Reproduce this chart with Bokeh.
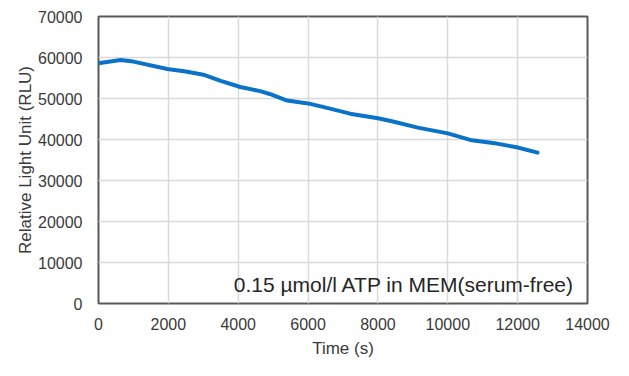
from bokeh.plotting import figure
from bokeh.models import Range1d, FixedTicker, Label, ColumnDataSource
from bokeh.embed import file_html
from bokeh.resources import INLINE

time_s = [0, 630, 1000, 1970, 2500, 3000, 3500, 4060, 4630, 4900, 5400, 6000,
          6600, 7200, 8000, 8430, 9140, 10000, 10690, 11400, 11970, 12570]
rlu = [58600, 59400, 59000, 57200, 56600, 55800, 54300, 52800, 51800, 51100,
       49500, 48800, 47600, 46300, 45200, 44400, 42900, 41500, 39800, 39000,
       38100, 36800]

x_ticks = [0, 2000, 4000, 6000, 8000, 10000, 12000, 14000]
y_ticks = [0, 10000, 20000, 30000, 40000, 50000, 60000, 70000]
annotation = "0.15 µmol/l ATP in MEM(serum-free)"

FONT = "Liberation Sans"
TXT = "#3a3a3a"

p = figure(width=629, height=376, output_backend="svg", toolbar_location=None,
           x_range=Range1d(0, 14000), y_range=Range1d(0, 70000),
           min_border_left=98, min_border_right=42, min_border_top=16,
           min_border_bottom=73)

p.line(x="t", y="v", source=ColumnDataSource(dict(t=time_s, v=rlu)),
       line_color="#0A73C8", line_width=4, line_join="round", line_cap="round")

for ax in (p.xaxis, p.yaxis):
    ax.axis_line_color = None
    ax.major_tick_line_color = None
    ax.minor_tick_line_color = None
    ax.major_label_text_font = FONT
    ax.major_label_text_font_size = "16px"
    ax.major_label_text_color = TXT
    ax.axis_label_text_font = FONT
    ax.axis_label_text_font_style = "normal"
    ax.axis_label_text_color = TXT

p.xaxis.axis_label_text_font_size = "17px"
p.yaxis.axis_label_text_font_size = "17px"
p.xaxis.ticker = FixedTicker(ticks=x_ticks)
p.yaxis.ticker = FixedTicker(ticks=y_ticks)
p.xaxis.axis_label = "Time (s)"
p.yaxis.axis_label = "Relative Light Unit (RLU)"
p.xaxis.major_label_standoff = 8
p.yaxis.major_label_standoff = 10
p.xaxis.axis_label_standoff = 6
p.yaxis.axis_label_standoff = 0

p.xgrid.ticker = FixedTicker(ticks=x_ticks)
p.ygrid.ticker = FixedTicker(ticks=y_ticks)
for g in (p.xgrid, p.ygrid):
    g.grid_line_color = "#D9D9D9"
    g.grid_line_width = 1.5

p.outline_line_color = "#595959"
p.outline_line_width = 2
p.outline_line_alpha = 1

p.add_layout(Label(x=13630, y=1800, text=annotation, text_align="right",
                   text_baseline="bottom", text_font=FONT,
                   text_font_size="21px", text_color="#262626"))

open("out.html", "w").write(file_html(p, INLINE))
